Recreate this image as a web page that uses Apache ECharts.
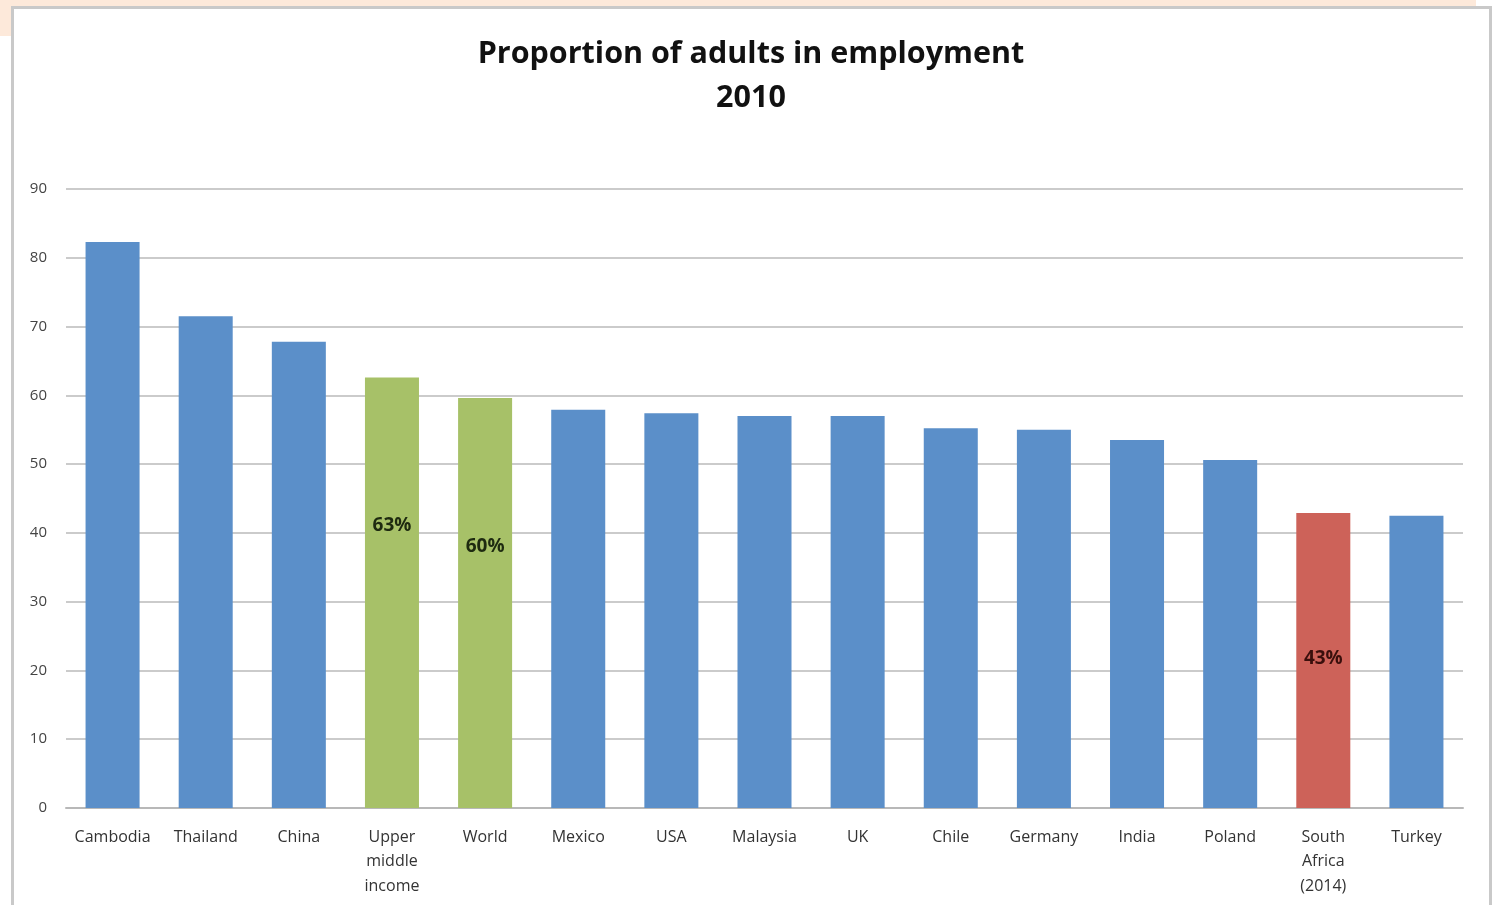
<!DOCTYPE html>
<html>
<head>
<meta charset="utf-8">
<script src="https://cdn.jsdelivr.net/npm/echarts@6/dist/echarts.min.js"></script>
<style>
html,body{margin:0;padding:0;width:1493px;height:905px;overflow:hidden;background:#fff;}
#peach{position:absolute;left:0;top:0;width:1476px;height:36px;background:#fde9da;}
#panel{position:absolute;left:11px;top:6px;width:1475px;height:920px;border:3px solid #c9c9c9;background:#fff;}
#chart{position:absolute;left:0;top:0;width:1493px;height:905px;}
</style>
</head>
<body>
<div id="peach"></div>
<div id="panel"></div>
<div id="chart"></div>
<script>
const categories = ['Cambodia','Thailand','China','Upper\nmiddle\nincome','World','Mexico','USA','Malaysia','UK','Chile','Germany','India','Poland','South\nAfrica\n(2014)','Turkey'];
const values = [82.3, 71.5, 67.8, 62.6, 59.6, 57.9, 57.4, 57.0, 57.0, 55.2, 55.0, 53.5, 50.6, 42.9, 42.5];
const barColors = ['#5b8fc9','#5b8fc9','#5b8fc9','#a7c168','#a7c168','#5b8fc9','#5b8fc9','#5b8fc9','#5b8fc9','#5b8fc9','#5b8fc9','#5b8fc9','#5b8fc9','#cd6259','#5b8fc9'];
const barLabels = ['','','','63%','60%','','','','','','','','','43%',''];
const labelColors = ['','','','#1e2a10','#1e2a10','','','','','','','','','#3a0f0c',''];
const labelDistance = [0,0,0,139,139,0,0,0,0,0,0,0,0,136,0];

const chart = echarts.init(document.getElementById('chart'), null, {renderer:'canvas'});
chart.setOption({
  backgroundColor: 'transparent',
  animation: false,
  title: {
    text: 'Proportion of adults in employment\n2010',
    left: 746,
    textAlign: 'center',
    top: 27,
    textStyle: {fontFamily:'Open Sans', fontWeight:'bold', fontSize:30.5, lineHeight:44, color:'#111'}
  },
  grid: {left:66, right:30, top:189, bottom:97, containLabel:false},
  xAxis: {
    type:'category',
    data: categories,
    axisTick:{show:false},
    axisLine:{lineStyle:{color:'#b8b8b8', width:2}},
    axisLabel:{interval:0, fontFamily:'Open Sans', fontSize:16, lineHeight:24.5, color:'#333', margin:17}
  },
  yAxis: {
    type:'value', min:0, max:90, interval:10,
    axisLine:{show:false}, axisTick:{show:false},
    splitLine:{lineStyle:{color:'#cbcbcb', width:2}},
    axisLabel:{fontFamily:'Open Sans', fontSize:15, color:'#444', margin:19}
  },
  series: [{
    type:'bar',
    barWidth:'58%',
    data: values.map((v,i)=>({
      value:v,
      itemStyle:{color:barColors[i]},
      label: barLabels[i] ? {show:true, formatter:barLabels[i], position:'insideTop', distance:labelDistance[i], color:labelColors[i], fontFamily:'Open Sans', fontWeight:'bold', fontSize:19} : {show:false}
    }))
  }]
});
</script>
</body>
</html>
